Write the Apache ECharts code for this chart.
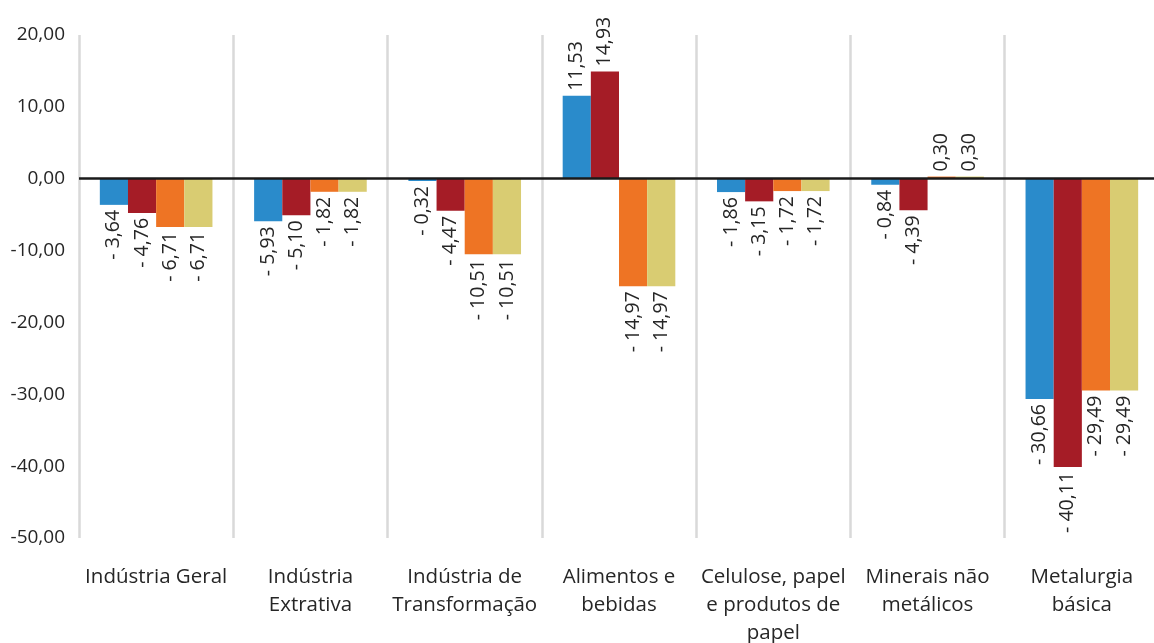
<!DOCTYPE html>
<html>
<head>
<meta charset="utf-8">
<script src="https://cdn.jsdelivr.net/npm/echarts@6/dist/echarts.min.js"></script>
<style>
html,body{margin:0;padding:0;background:#fff;}
#chart{width:1154px;height:643px;}
</style>
</head>
<body>
<div id="chart"></div>
<script>
const categories = [
  "Indústria Geral",
  "Indústria\nExtrativa",
  "Indústria de\nTransformação",
  "Alimentos e\nbebidas",
  "Celulose, papel\ne produtos de\npapel",
  "Minerais não\nmetálicos",
  "Metalurgia\nbásica"
];
const seriesNames = ["Série 1", "Série 2", "Série 3", "Série 4"];
const serie1 = [-3.64, -5.93, -0.32, 11.53, -1.86, -0.84, -30.66];
const serie2 = [-4.76, -5.10, -4.47, 14.93, -3.15, -4.39, -40.11];
const serie3 = [-6.71, -1.82, -10.51, -14.97, -1.72, 0.30, -29.49];
const serie4 = [-6.71, -1.82, -10.51, -14.97, -1.72, 0.30, -29.49];
const colors = ["#2A8BCB", "#A51C26", "#EE7424", "#D9CC72"];

const FONT = "Open Sans";
function fmtNum(v) {
  return Math.abs(v).toFixed(2).replace('.', ',');
}
function fmtLabel(v) {
  return v < 0 ? '- ' + fmtNum(v) : fmtNum(v);
}
function buildData(arr) {
  return arr.map(v => ({
    value: v,
    label: v < 0
      ? { position: 'bottom', align: 'right', verticalAlign: 'middle' }
      : { position: 'top', align: 'left', verticalAlign: 'middle' }
  }));
}

const allSeries = [serie1, serie2, serie3, serie4].map((arr, i) => {
  const s = {
    name: seriesNames[i],
    type: 'bar',
    data: buildData(arr),
    barGap: '0%',
    barCategoryGap: '27%',
    itemStyle: { color: colors[i] },
    label: {
      show: true,
      rotate: 90,
      distance: 5,
      fontFamily: FONT,
      fontSize: 19.5,
      color: '#262626',
      formatter: p => fmtLabel(p.value)
    }
  };
  if (i === 0) {
    s.markLine = {
      silent: true,
      symbol: ['none', 'none'],
      label: { show: false },
      lineStyle: { color: '#1a1a1a', width: 2.5, type: 'solid' },
      data: [{ yAxis: 0 }],
      z: 10
    };
  }
  return s;
});

const chart = echarts.init(document.getElementById('chart'));
chart.setOption({
  animation: false,
  backgroundColor: '#ffffff',
  grid: { left: 79, right: -5, top: 35, bottom: 105, containLabel: false, outerBoundsMode: 'none' },
  xAxis: {
    type: 'category',
    data: categories,
    axisLine: { show: false, onZero: false },
    axisTick: { show: false },
    splitLine: { show: true, lineStyle: { color: '#D9D9D9', width: 2.5 } },
    axisLabel: {
      fontFamily: FONT,
      fontSize: 20.5,
      color: '#262626',
      lineHeight: 28,
      margin: 25,
      interval: 0
    }
  },
  yAxis: {
    type: 'value',
    min: -50,
    max: 20,
    interval: 10,
    axisLine: { show: false },
    axisTick: { show: false },
    splitLine: { show: false },
    axisLabel: {
      fontFamily: FONT,
      fontSize: 19,
      color: '#262626',
      margin: 14,
      formatter: v => (v < 0 ? '-' : '') + fmtNum(v)
    }
  },
  series: allSeries
});
</script>
</body>
</html>
